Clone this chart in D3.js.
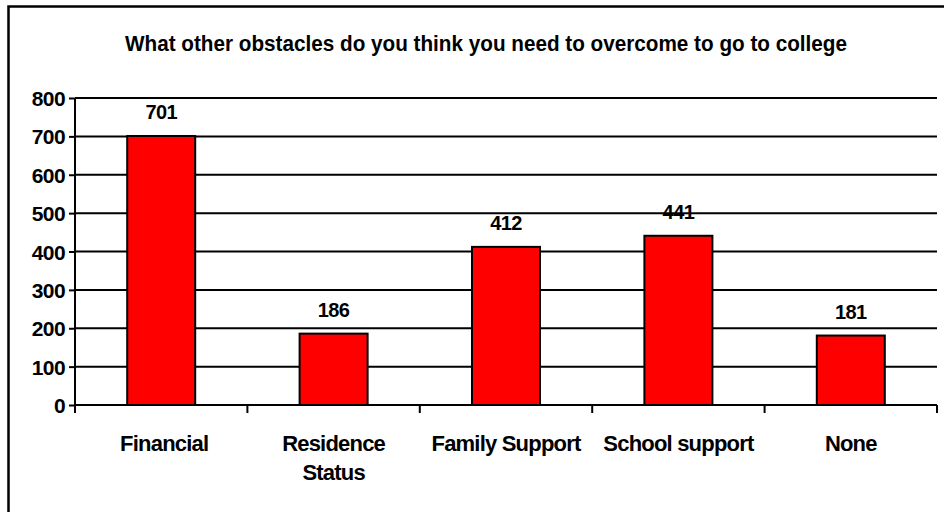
<!DOCTYPE html>
<html><head><meta charset="utf-8">
<script src="https://cdn.jsdelivr.net/npm/d3@7"></script>
<style>
html,body{margin:0;padding:0;background:#fff;}
svg{display:block;}
text{font-family:"Liberation Sans",Arial,sans-serif;font-weight:bold;fill:#000;}
</style></head>
<body>
<svg id="chart" width="944" height="512"></svg>
<script>
const title = "What other obstacles do you think you need to overcome to go to college";
const categories = [["Financial"], ["Residence", "Status"], ["Family Support"], ["School support"], ["None"]];
const values = [701, 186, 412, 441, 181];
const yTicks = [0, 100, 200, 300, 400, 500, 600, 700, 800];

(function () {
const svg = d3.select("#chart");
const mLeft = 75, mRight = 937, mTop = 98, mBottom = 405;

// outer frame
svg.append("rect").attr("x", 8.5).attr("y", 6.5).attr("width", 960).attr("height", 540)
  .attr("fill", "none").attr("stroke", "#000").attr("stroke-width", 2.5);

svg.append("text").attr("x", 486).attr("y", 51).attr("text-anchor", "middle")
  .attr("font-size", 22).attr("textLength", 722).attr("lengthAdjust", "spacingAndGlyphs").text(title);

const x = d3.scaleBand().domain(d3.range(values.length)).range([mLeft, mRight]).paddingInner(0).paddingOuter(0);
const y = d3.scaleLinear().domain([0, 800]).range([mBottom, mTop]);

// gridlines
svg.append("g").selectAll("line").data(yTicks.filter(d => d > 0)).join("line")
  .attr("x1", mLeft).attr("x2", mRight).attr("y1", d => y(d)).attr("y2", d => y(d))
  .attr("stroke", "#000").attr("stroke-width", 2);

// y axis
const yAxis = svg.append("g").attr("transform", `translate(${mLeft},0)`)
  .call(d3.axisLeft(y).tickValues(yTicks).tickSize(6).tickPadding(4).tickFormat(d3.format("d")));
yAxis.select(".domain").attr("stroke-width", 2).attr("d", `M0,${mBottom}V${mTop}`);
yAxis.selectAll(".tick line").attr("stroke-width", 2);
yAxis.selectAll(".tick text").attr("font-size", 21).attr("font-family", "Liberation Sans, Arial, sans-serif")
  .attr("font-weight", "bold").attr("fill", "#000").attr("dy", "0.36em").attr("letter-spacing", -0.6);

// bars
const bw = 68;
svg.append("g").selectAll("rect").data(values).join("rect")
  .attr("x", (d, i) => x(i) + (x.bandwidth() - bw) / 2)
  .attr("y", d => y(d)).attr("width", bw).attr("height", d => y(0) - y(d))
  .attr("fill", "#ff0000").attr("stroke", "#000").attr("stroke-width", 2);

// x axis line & ticks
svg.append("line").attr("x1", mLeft).attr("x2", mRight).attr("y1", mBottom).attr("y2", mBottom)
  .attr("stroke", "#000").attr("stroke-width", 2);
const bounds = d3.range(values.length + 1).map(i => i < values.length ? x(i) : mRight);
svg.append("g").selectAll("line").data(bounds).join("line")
  .attr("x1", d => d).attr("x2", d => d).attr("y1", mBottom).attr("y2", mBottom + 8)
  .attr("stroke", "#000").attr("stroke-width", 2);

// value labels
svg.append("g").selectAll("text").data(values).join("text")
  .attr("x", (d, i) => x(i) + x.bandwidth() / 2).attr("y", d => y(d) - 17)
  .attr("text-anchor", "middle").attr("font-size", 20).attr("letter-spacing", -0.6).text(d => d);

// category labels
const cl = svg.append("g").selectAll("text").data(categories).join("text")
  .attr("x", (d, i) => x(i) + x.bandwidth() / 2 + (i === 0 ? 3 : 0)).attr("y", 451)
  .attr("text-anchor", "middle").attr("font-size", 22).attr("letter-spacing", -0.8);
cl.selectAll("tspan").data(d => d).join("tspan")
  .attr("x", function() { return d3.select(this.parentNode).attr("x"); })
  .attr("dy", (d, i) => i === 0 ? 0 : 29).text(d => d);
})();
</script>
</body></html>
